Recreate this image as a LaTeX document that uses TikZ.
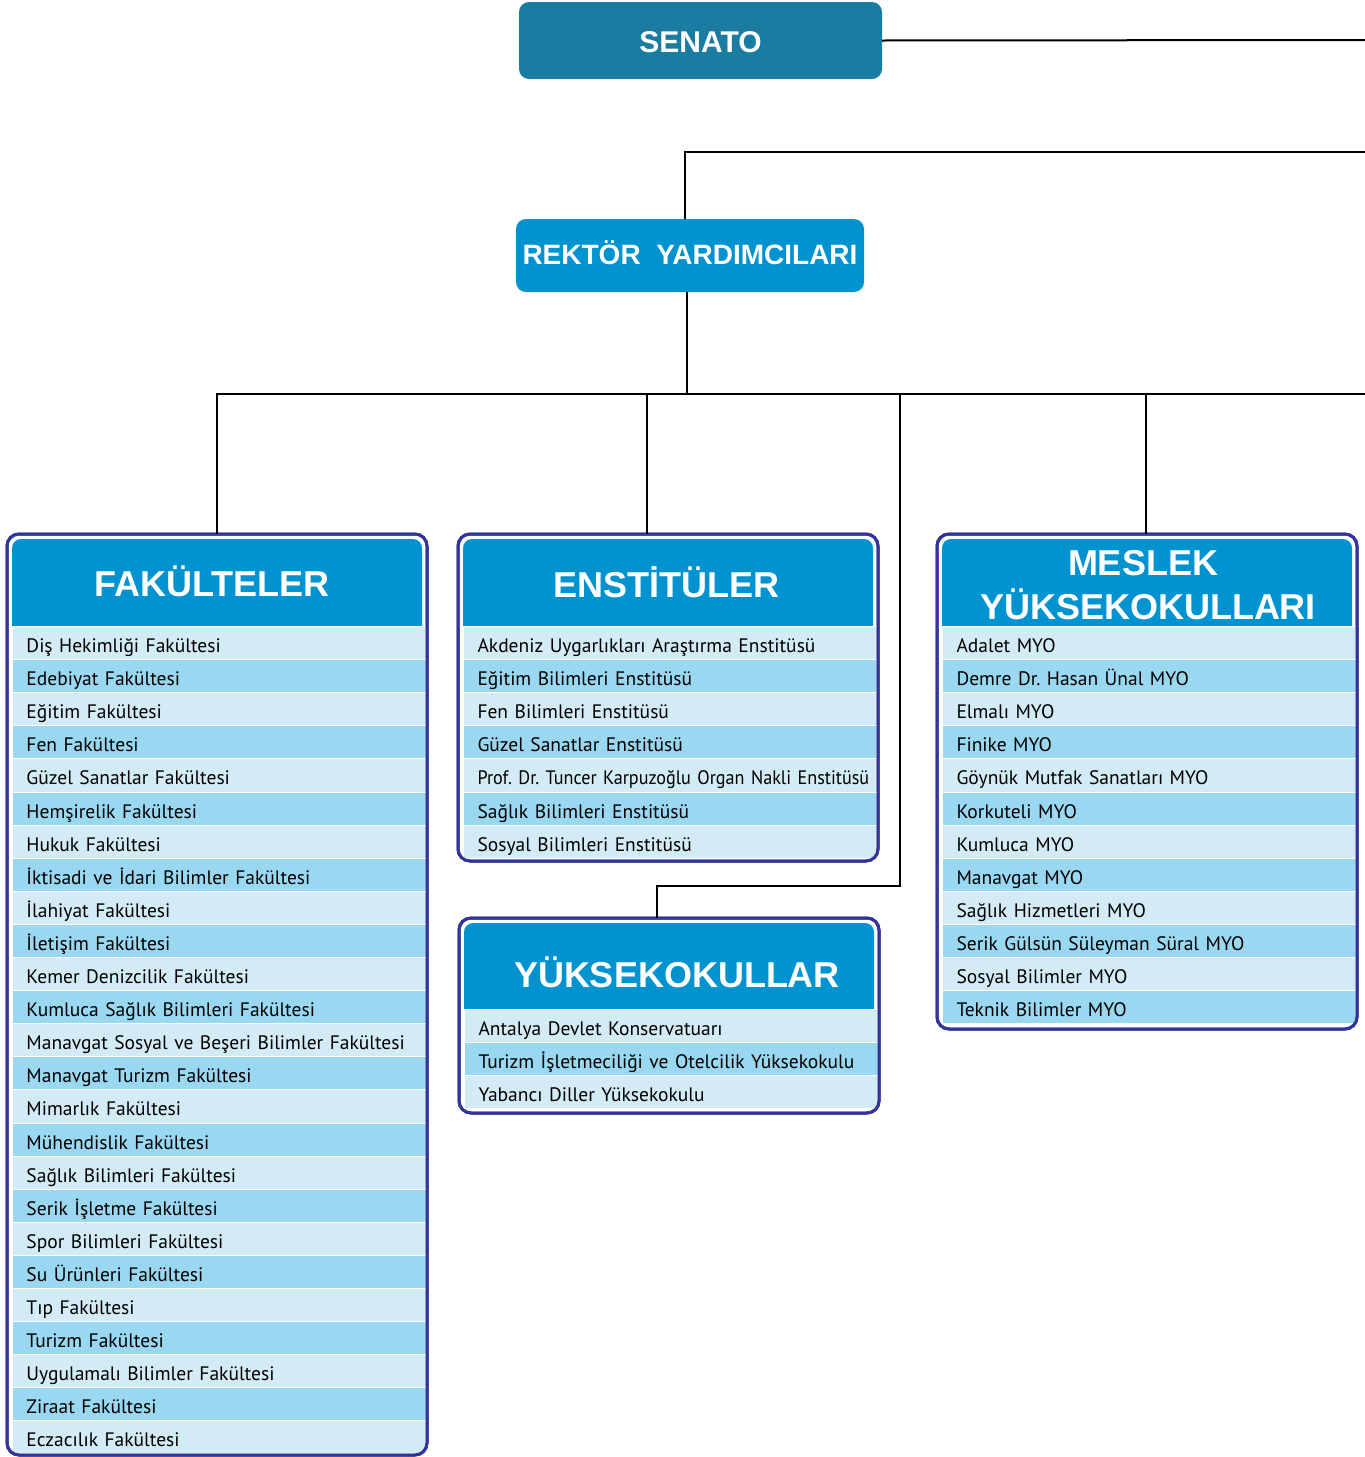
\documentclass[tikz,border=0pt]{standalone}
\usepackage{fontspec}
\setmainfont{PT Sans}
\newfontfamily\headfont{Liberation Sans}
\newfontfamily\condfont[FakeStretch=0.93]{PT Sans}
\definecolor{senatoblue}{HTML}{1B7CA2}
\definecolor{headblue}{HTML}{0093D0}
\definecolor{rowlight}{HTML}{D3EBF5}
\definecolor{rowmid}{HTML}{9AD8F1}
\definecolor{navy}{HTML}{33349A}
\frenchspacing
\tikzset{
  topbox/.style={rounded corners=10pt, text=white, inner sep=0pt, outer sep=0pt},
  conn/.style={line width=2pt, draw=black},
  panel/.style={draw=navy, line width=3pt, rounded corners=12pt, fill=white, inner sep=0pt, outer sep=0pt, anchor=north west},
  panelborder/.style={draw=navy, line width=3pt, rounded corners=12pt},
  rowbox/.style={anchor=north west, minimum height=33.1pt, inner xsep=14pt, inner ysep=0pt,
    text height=19pt, text depth=0pt, align=left, draw=white, line width=1pt,
    font=\fontsize{19.5}{22}\selectfont, text=black},
  headtxt/.style={text=white, inner sep=0pt, anchor=base, font=\headfont\bfseries\fontsize{36}{40}\selectfont},
}
\newcommand\mkpanel[6]{% name, x, y, width, height, header bottom
  \node[panel, minimum width=#4, minimum height=#5] (#1) at (#2,#3) {};
  \fill[headblue] (#2+5,#6) [rounded corners=9pt] -- (#2+5,#3+5) -- (#2+#4-5,#3+5) [sharp corners] -- (#2+#4-5,#6) -- cycle;
}
\newcommand\mkrows[6]{% prefix, x, y, width, list, panel
  \pgfmathsetmacro\rowtw{#4-28}
  \begin{scope}
  \clip[rounded corners=10.5pt] ([shift={(1.5,1.5)}]#6.north west) rectangle ([shift={(-1.5,-1.5)}]#6.south east);
  \foreach \t [count=\i from 0] in {#5} {
    \ifodd\i\relax \def\rc{rowmid}\else \def\rc{rowlight}\fi
    \node[rowbox, fill=\rc, text width=\rowtw pt] (#1-\i) at (#2, #3+\i*33.1) {\mbox{\t}};
  }
  \end{scope}
  \draw[panelborder] (#6.north west) rectangle (#6.south east);
}
\begin{document}
\begin{tikzpicture}[x=1pt,y=-1pt]
\useasboundingbox (0,0) rectangle (1365,1457);

% top boxes
\node[topbox, fill=senatoblue, minimum width=363pt, minimum height=77pt,
  font=\headfont\bfseries\fontsize{30}{34}\selectfont, text height=23pt, text depth=0pt] (senato) at (700.5,40.5) {SENATO};
\node[topbox, fill=headblue, minimum width=348pt, minimum height=73pt,
  font=\headfont\bfseries\fontsize{28}{32}\selectfont, text height=20pt, text depth=3pt] (rektor) at (690,255.5) {REKTÖR\ \ YARDIMCILARI};

% panels
\mkpanel{fak}{7}{534}{420}{921}{626}
\mkpanel{ens}{458}{534}{420}{327}{626}
\mkpanel{yuk}{459}{918}{420}{195}{1009}
\mkpanel{myo}{937}{534}{420}{495}{626}

\node[headtxt] (fakhead) at (212,596) {FAKÜLTELER};
\node[headtxt] (enshead) at (666.5,597) {ENSTİTÜLER};
\node[headtxt] (yukhead) at (677,987) {YÜKSEKOKULLAR};
\node[headtxt] (myohead1) at (1143,575) {MESLEK};
\node[headtxt] (myohead2) at (1148,619) {YÜKSEKOKULLARI};

\mkrows{fr}{12}{626}{413.5}{Diş Hekimliği Fakültesi,Edebiyat Fakültesi,Eğitim Fakültesi,Fen Fakültesi,Güzel Sanatlar Fakültesi,Hemşirelik Fakültesi,Hukuk Fakültesi,İktisadi ve İdari Bilimler Fakültesi,İlahiyat Fakültesi,İletişim Fakültesi,Kemer Denizcilik Fakültesi,Kumluca Sağlık Bilimleri Fakültesi,Manavgat Sosyal ve Beşeri Bilimler Fakültesi,Manavgat Turizm Fakültesi,Mimarlık Fakültesi,Mühendislik Fakültesi,Sağlık Bilimleri Fakültesi,Serik İşletme Fakültesi,Spor Bilimleri Fakültesi,Su Ürünleri Fakültesi,Tıp Fakültesi,Turizm Fakültesi,Uygulamalı Bilimler Fakültesi,Ziraat Fakültesi,Eczacılık Fakültesi}{fak}
\mkrows{er}{463}{626}{413.5}{Akdeniz Uygarlıkları Araştırma Enstitüsü,Eğitim Bilimleri Enstitüsü,Fen Bilimleri Enstitüsü,Güzel Sanatlar Enstitüsü,{\condfont Prof. Dr. Tuncer Karpuzoğlu Organ Nakli Enstitüsü},Sağlık Bilimleri Enstitüsü,Sosyal Bilimleri Enstitüsü}{ens}
\mkrows{yr}{464}{1009}{413.5}{Antalya Devlet Konservatuarı,Turizm İşletmeciliği ve Otelcilik Yüksekokulu,Yabancı Diller Yüksekokulu}{yuk}
\mkrows{mr}{942}{626}{413.5}{Adalet MYO,Demre Dr. Hasan Ünal MYO,Elmalı MYO,Finike MYO,Göynük Mutfak Sanatları MYO,Korkuteli MYO,Kumluca MYO,Manavgat MYO,Sağlık Hizmetleri MYO,Serik Gülsün Süleyman Süral MYO,Sosyal Bilimler MYO,Teknik Bilimler MYO}{myo}

% connectors
\coordinate (sR) at (1365,40);
\coordinate (rR) at (1365,152);
\coordinate (hR) at (1365,394);
\coordinate (hub) at (687,394);
\coordinate (ybend) at (900,886);
\draw[conn] (senato.east) -- (sR);
\draw[conn] (rR) -| ([xshift=-5pt]rektor.north);
\draw[conn] ([xshift=-3pt]rektor.south) -- (hub);
\draw[conn] (hR) -| (fak.north);
\draw[conn] (hR) -| ([xshift=-21pt]ens.north);
\draw[conn] (hR) -| (ybend) -| ([xshift=-12pt]yuk.north);
\draw[conn] (hR) -| ([xshift=-1pt]myo.north);
\end{tikzpicture}
\end{document}
